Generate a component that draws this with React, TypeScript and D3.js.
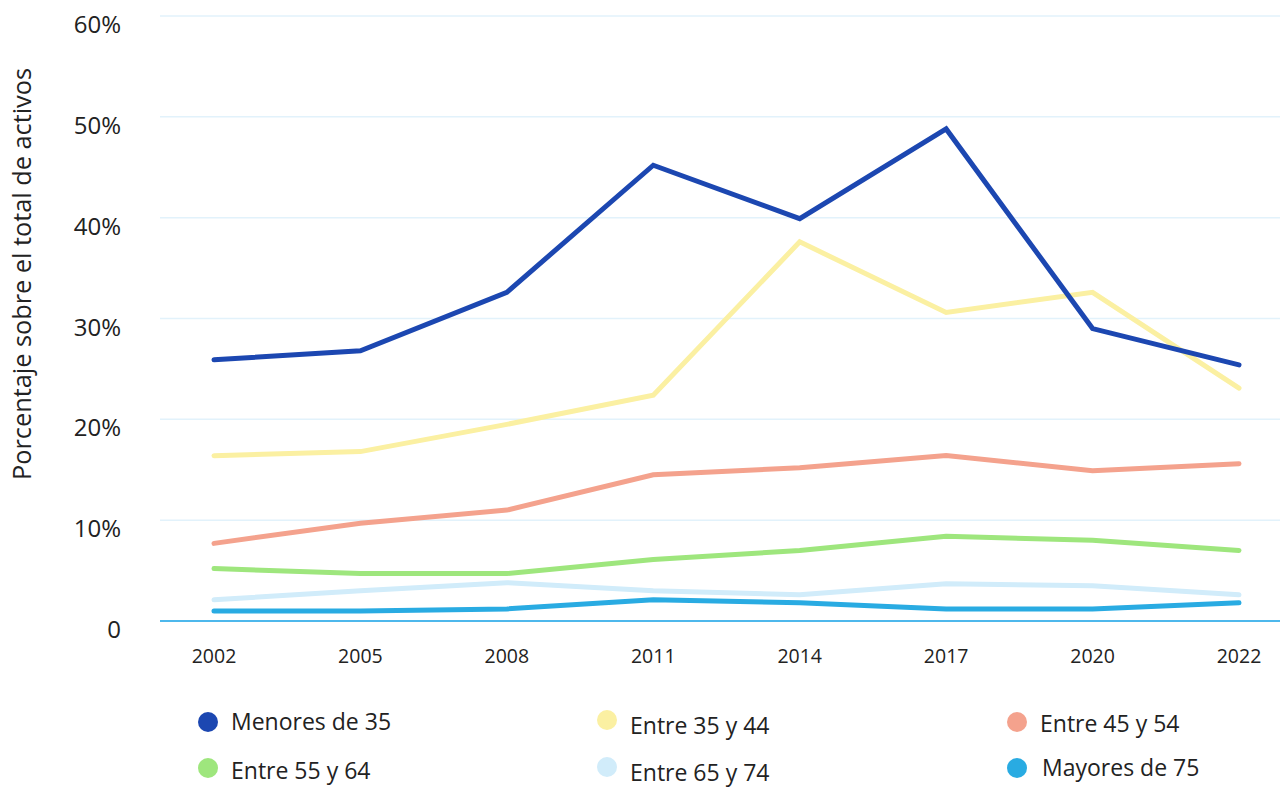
import React from "react";
import * as d3 from "d3";

const years = ["2002", "2005", "2008", "2011", "2014", "2017", "2020", "2022"];
const menores35 = [25.9, 26.8, 32.6, 45.2, 39.9, 48.8, 29.0, 25.4];
const entre35y44 = [16.4, 16.8, 19.5, 22.4, 37.6, 30.6, 32.6, 23.1];
const entre45y54 = [7.7, 9.7, 11.0, 14.5, 15.2, 16.4, 14.9, 15.6];
const entre55y64 = [5.2, 4.7, 4.7, 6.1, 7.0, 8.4, 8.0, 7.0];
const entre65y74 = [2.1, 3.0, 3.8, 3.0, 2.6, 3.7, 3.5, 2.6];
const mayores75 = [1.0, 1.0, 1.2, 2.1, 1.8, 1.2, 1.2, 1.8];
const yTicks = [0, 10, 20, 30, 40, 50, 60];

const seriesNames = ["Menores de 35", "Entre 35 y 44", "Entre 45 y 54", "Entre 55 y 64", "Entre 65 y 74", "Mayores de 75"];
const seriesColors = ["#1c47b1", "#fbf0a2", "#f4a28d", "#9ee67d", "#d1ecfa", "#29abe2"];
const seriesValues = [menores35, entre35y44, entre45y54, entre55y64, entre65y74, mayores75];

// draw order: back to front
const drawOrder = [5, 4, 3, 2, 1, 0];

const W = 1280;
const H = 787;
const FONT = "'Open Sans', 'Noto Sans', sans-serif";

export default function App() {
  const x = d3.scalePoint<string>().domain(years).range([214, 1239]);
  const y = d3.scaleLinear().domain([0, 60]).range([621, 16]);
  const line = d3
    .line<number>()
    .x((_, i) => x(years[i]) as number)
    .y((d) => y(d));

  const legendPos = [
    { cx: 208, cy: 722, tx: 231, ty: 730 },
    { cx: 607, cy: 720, tx: 630, ty: 734 },
    { cx: 1017, cy: 722, tx: 1040, ty: 732 },
    { cx: 208, cy: 768, tx: 231, ty: 779 },
    { cx: 607, cy: 767, tx: 630, ty: 781 },
    { cx: 1017, cy: 768, tx: 1042, ty: 776 },
  ];

  return (
    <svg
      width={W}
      height={H}
      style={{ position: "absolute", left: 0, top: 0, background: "#fff" }}
      fontFamily={FONT}
    >
      {yTicks.map((t) =>
        t === 0 ? null : (
          <line key={"g" + t} x1={160} x2={1280} y1={y(t)} y2={y(t)} stroke="#e2f2fb" strokeWidth={1.5} />
        )
      )}
      {yTicks.map((t) => (
        <text key={"yl" + t} x={121} y={y(t) + 17} textAnchor="end" fontSize={24} fill="#222">
          {t === 0 ? "0" : `${t}%`}
        </text>
      ))}
      <text
        transform={`translate(31, 274) rotate(-90)`}
        textAnchor="middle"
        fontSize={25.3}
        fill="#222"
      >
        Porcentaje sobre el total de activos
      </text>
      {years.map((yr) => (
        <text key={"xl" + yr} x={x(yr)} y={663} textAnchor="middle" fontSize={19.5} fill="#222">
          {yr}
        </text>
      ))}
      {drawOrder.map((i) => (
        <path
          key={"s" + i}
          d={line(seriesValues[i]) || ""}
          fill="none"
          stroke={seriesColors[i]}
          strokeWidth={5}
          strokeLinejoin="miter"
          strokeLinecap="round"
        />
      ))}
      <line x1={160} x2={1280} y1={y(0)} y2={y(0)} stroke="#4db8ec" strokeWidth={2} />
      {seriesNames.map((n, i) => (
        <g key={"lg" + i}>
          <circle cx={legendPos[i].cx} cy={legendPos[i].cy} r={10} fill={seriesColors[i]} />
          <text x={legendPos[i].tx} y={legendPos[i].ty} fontSize={23} fill="#222">
            {n}
          </text>
        </g>
      ))}
    </svg>
  );
}
